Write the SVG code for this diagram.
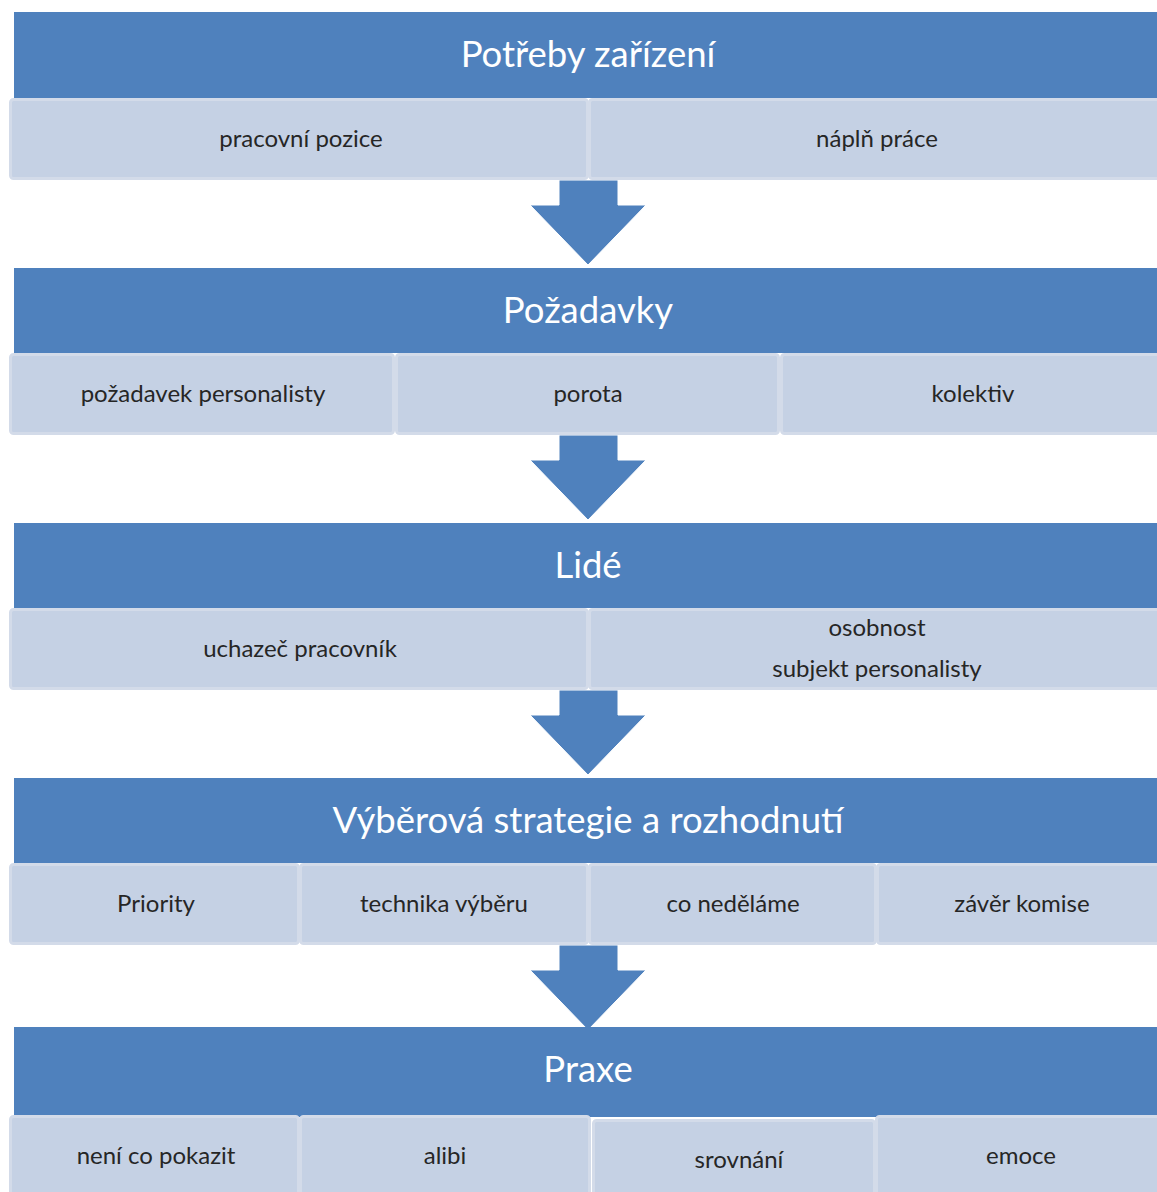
<svg xmlns="http://www.w3.org/2000/svg" width="1157" height="1192" viewBox="0 0 1157 1192">
<defs>
<style>
.hdr{fill:#4f81bd}
.sub{fill:#c5d1e4;stroke:#d3dbe9;stroke-width:3}
.arr{fill:#4f81bd;stroke:#ffffff;stroke-width:1;stroke-linejoin:round}
.ht{font-family:Lato,"Open Sans",sans-serif;font-size:36.5px;fill:#ffffff;text-anchor:middle}
.st{font-family:Lato,"Open Sans",sans-serif;font-size:24px;fill:#262626;text-anchor:middle}
</style>
<path id="arrow" d="M559,0 H618 V25 H646 L588,85 L530,25 H559 Z"/>
</defs>
<rect width="1157" height="1192" fill="#ffffff"/>

<g id="connectors">
<use href="#arrow" class="arr" transform="translate(0,180)"/>
<use href="#arrow" class="arr" transform="translate(0,435)"/>
<use href="#arrow" class="arr" transform="translate(0,690)"/>
<use href="#arrow" class="arr" transform="translate(0,945)"/>
</g>

<g id="n1">
<rect class="hdr" x="14" y="12" width="1150" height="86"/>
<text class="ht" x="588" y="67">Potřeby zařízení</text>
</g>
<g id="n1a"><rect class="sub" x="10.5" y="99.5" width="577" height="79" rx="3"/><text class="st" x="301" y="147">pracovní pozice</text></g>
<g id="n1b"><rect class="sub" x="589.5" y="99.5" width="575" height="79" rx="3"/><text class="st" x="877" y="147">náplň práce</text></g>

<g id="n2">
<rect class="hdr" x="14" y="268" width="1150" height="85"/>
<text class="ht" x="588" y="323">Požadavky</text>
</g>
<g id="n2a"><rect class="sub" x="10.5" y="354.5" width="383" height="79" rx="3"/><text class="st" x="203" y="402">požadavek personalisty</text></g>
<g id="n2b"><rect class="sub" x="396.5" y="354.5" width="382" height="79" rx="3"/><text class="st" x="588" y="402">porota</text></g>
<g id="n2c"><rect class="sub" x="781.5" y="354.5" width="383" height="79" rx="3"/><text class="st" x="973" y="402">kolektiv</text></g>

<g id="n3">
<rect class="hdr" x="14" y="523" width="1150" height="85"/>
<text class="ht" x="588" y="578">Lidé</text>
</g>
<g id="n3a"><rect class="sub" x="10.5" y="609.5" width="577" height="79" rx="3"/><text class="st" x="300" y="657">uchazeč pracovník</text></g>
<g id="n3b"><rect class="sub" x="589.5" y="609.5" width="575" height="79" rx="3"/><text class="st" x="877" y="636">osobnost</text><text class="st" x="877" y="677">subjekt personalisty</text></g>

<g id="n4">
<rect class="hdr" x="14" y="778" width="1150" height="85"/>
<text class="ht" x="588" y="833">Výběrová strategie a rozhodnutí</text>
</g>
<g id="n4a"><rect class="sub" x="10.5" y="864.5" width="288" height="79" rx="3"/><text class="st" x="156" y="912">Priority</text></g>
<g id="n4b"><rect class="sub" x="300.5" y="864.5" width="287" height="79" rx="3"/><text class="st" x="444" y="912">technika výběru</text></g>
<g id="n4c"><rect class="sub" x="589.5" y="864.5" width="286" height="79" rx="3"/><text class="st" x="733" y="912">co neděláme</text></g>
<g id="n4d"><rect class="sub" x="877.5" y="864.5" width="287" height="79" rx="3"/><text class="st" x="1022" y="912">závěr komise</text></g>

<g id="n5">
<rect class="hdr" x="14" y="1027" width="1150" height="90"/>
<text class="ht" x="588" y="1082">Praxe</text>
</g>
<g id="n5a"><rect class="sub" x="10.5" y="1116.5" width="288" height="80" rx="3"/><text class="st" x="156" y="1164">není co pokazit</text></g>
<g id="n5b"><rect class="sub" x="300.5" y="1116.5" width="289" height="80" rx="3"/><text class="st" x="445" y="1164">alibi</text></g>
<g id="n5c"><rect class="sub" x="593.5" y="1120.5" width="281" height="76" rx="3"/><text class="st" x="739" y="1168">srovnání</text></g>
<g id="n5d"><rect class="sub" x="876.5" y="1116.5" width="288" height="80" rx="3"/><text class="st" x="1021" y="1164">emoce</text></g>
</svg>
